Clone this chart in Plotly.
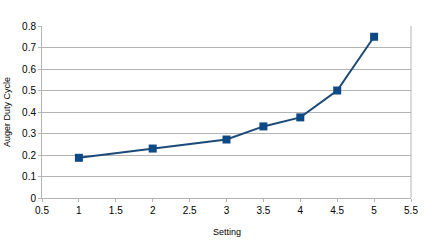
import plotly.graph_objects as go

setting = [1, 2, 3, 3.5, 4, 4.5, 5]
duty = [0.187, 0.23, 0.272, 0.333, 0.375, 0.5, 0.75]

x_ticks = [0.5, 1, 1.5, 2, 2.5, 3, 3.5, 4, 4.5, 5, 5.5]
y_ticks = [0, 0.1, 0.2, 0.3, 0.4, 0.5, 0.6, 0.7, 0.8]

fig = go.Figure(go.Scatter(
    x=setting, y=duty, mode="lines+markers",
    line=dict(color="#1c4a78", width=2),
    marker=dict(symbol="square", size=8, color="#0d4a85"),
))

fig.update_layout(
    width=429, height=241,
    margin=dict(l=42, r=18, t=26, b=43),
    paper_bgcolor="white", plot_bgcolor="white",
    font=dict(family="Liberation Sans, Arial, sans-serif", size=10, color="#000"),
    showlegend=False,
    xaxis=dict(
        range=[0.5, 5.5], tickvals=x_ticks, ticktext=[f"{v:g}" for v in x_ticks],
        showgrid=False, zeroline=False, showline=True, linecolor="#b3b3b3", linewidth=1,
        ticks="outside", ticklen=3, tickcolor="#b3b3b3", automargin=False,
    ),
    yaxis=dict(
        range=[0, 0.8], tickvals=y_ticks, ticktext=[f"{v:g}" for v in y_ticks],
        showgrid=True, gridcolor="#b3b3b3", gridwidth=1, zeroline=False,
        showline=True, linecolor="#b3b3b3", linewidth=1,
        ticks="outside", ticklen=3, tickcolor="#b3b3b3", automargin=False,
    ),
    shapes=[dict(type="line", xref="paper", yref="paper", x0=1, x1=1, y0=0, y1=1,
                 line=dict(color="#b3b3b3", width=1))],
    annotations=[
        dict(text="Setting", xref="paper", yref="paper", x=0.5, y=0, yshift=-34,
             xanchor="center", yanchor="middle", showarrow=False, font=dict(size=9)),
        dict(text="Auger Duty Cycle", xref="paper", yref="paper", x=-0.095, y=0.5,
             xanchor="center", yanchor="middle", textangle=-90, showarrow=False,
             font=dict(size=9)),
    ],
)

fig.write_html("out.html")
